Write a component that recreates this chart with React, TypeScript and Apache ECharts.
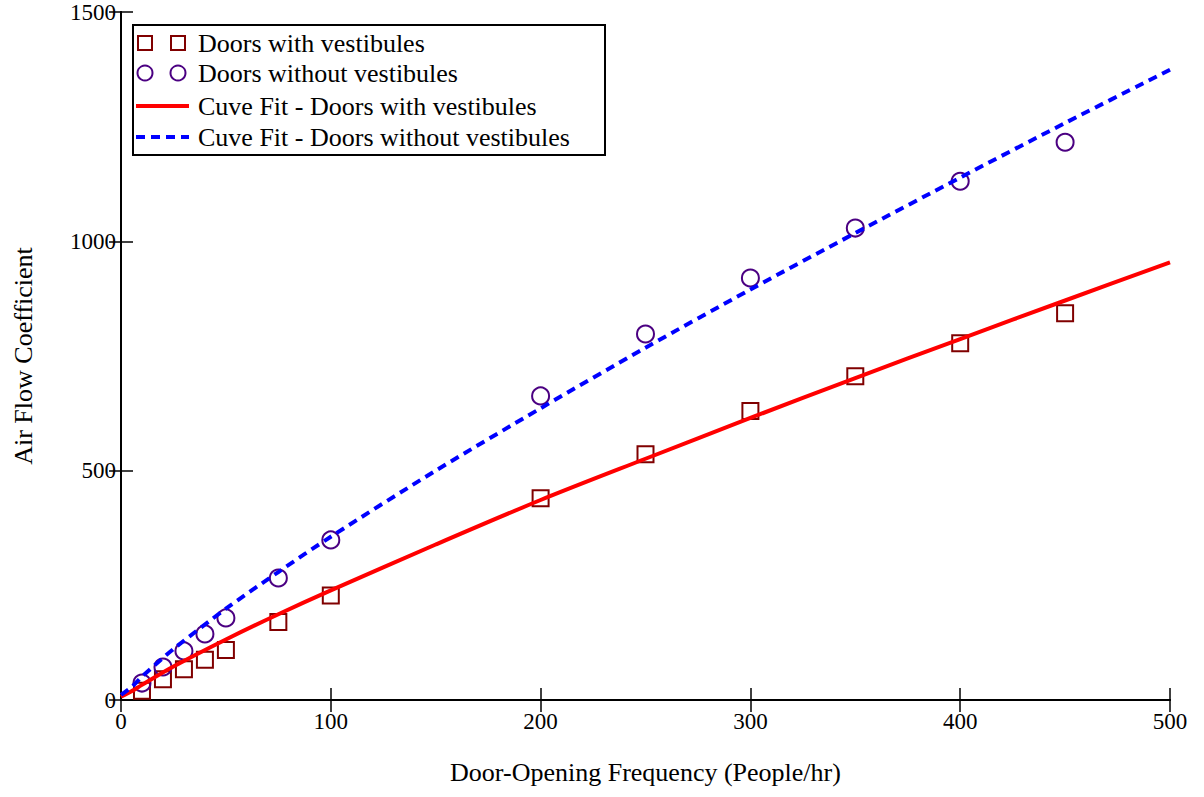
import React, { useEffect, useRef } from "react";
import * as echarts from "echarts";

// Measured points (Door-opening frequency, People/hr)
const xValues = [10, 20, 30, 40, 50, 75, 100, 200, 250, 300, 350, 400, 450];
const withVestibules = [20, 45, 67, 88, 109, 170, 228, 440, 536, 630, 706, 778, 843];
const withoutVestibules = [37, 72, 107, 144, 179, 266, 349, 663, 798, 920, 1029, 1131, 1216];

// Curve fits
const fitX = [0, 5, 10, 25, 50, 75, 100, 150, 200, 250, 300, 350, 400, 450, 500];
const fitWith = [7, 19, 33, 73, 132, 187, 239, 339, 436, 526, 615, 702, 787, 871, 954];
const fitWithout = [11, 28, 51, 111, 199, 279, 356, 500, 636, 768, 895, 1018, 1139, 1258, 1374];

const xTicks = { min: 0, max: 500, interval: 100 };
const yTicks = { min: 0, max: 1500, interval: 500 };

const legendLabels = [
  "Doors with vestibules",
  "Doors without vestibules",
  "Cuve Fit - Doors with vestibules",
  "Cuve Fit - Doors without vestibules",
];
const xTitle = "Door-Opening Frequency (People/hr)";
const yTitle = "Air Flow Coefficient";

const FONT = "Liberation Serif";
const SQ_COLOR = "#800000";
const CI_COLOR = "#4B0082";
const RED = "#ff0000";
const BLUE = "#0000ff";

export default function App() {
  const ref = useRef<HTMLDivElement>(null);

  useEffect(() => {
    if (!ref.current) return;
    const chart = echarts.init(ref.current, null, { renderer: "svg" });

    const axisCommon = {
      type: "value" as const,
      axisLine: { show: true, lineStyle: { color: "#000", width: 2 } },
      axisTick: { show: true, inside: true, length: 12, lineStyle: { color: "#000", width: 1.5 } },
      splitLine: { show: false },
    };

    const tickStyle = { color: "#000", fontSize: 23, fontFamily: FONT };
    const titleStyle = { color: "#000", fontSize: 26, fontFamily: FONT };

    const lx = 136;
    const rows = [43, 73, 106, 137];
    const textX = 198;

    const option: any = {
      animation: false,
      backgroundColor: "#fff",
      textStyle: { fontFamily: FONT },
      grid: { left: 121, right: 34, top: 12, bottom: 97 },
      xAxis: [
        {
          ...axisCommon,
          ...xTicks,
          position: "bottom",
          axisLabel: { ...tickStyle, margin: 10, formatter: (v: number) => String(v) },
          name: xTitle,
          nameLocation: "middle",
          nameGap: 59,
          nameTextStyle: { ...titleStyle },
        },
        {
          ...axisCommon,
          ...xTicks,
          position: "top",
          axisLabel: { show: false },
        },
      ],
      yAxis: [
        {
          ...axisCommon,
          ...yTicks,
          position: "left",
          axisLabel: { ...tickStyle, margin: 5, formatter: (v: number) => String(v) },
          name: yTitle,
          nameLocation: "middle",
          nameGap: 85,
          nameTextStyle: { ...titleStyle },
        },
        {
          ...axisCommon,
          ...yTicks,
          position: "right",
          axisLabel: { show: false },
        },
      ],
      series: [
        {
          type: "scatter",
          name: legendLabels[0],
          data: xValues.map((x, i) => [x, withVestibules[i]]),
          symbol: "rect",
          symbolSize: 16,
          itemStyle: { color: "transparent", borderColor: SQ_COLOR, borderWidth: 2, opacity: 1 },
          z: 2,
        },
        {
          type: "scatter",
          name: legendLabels[1],
          data: xValues.map((x, i) => [x, withoutVestibules[i]]),
          symbol: "circle",
          symbolSize: 17,
          itemStyle: { color: "transparent", borderColor: CI_COLOR, borderWidth: 2, opacity: 1 },
          z: 2,
        },
        {
          type: "line",
          name: legendLabels[2],
          data: fitX.map((x, i) => [x, fitWith[i]]),
          showSymbol: false,
          smooth: 0.3,
          lineStyle: { color: RED, width: 4 },
          z: 3,
        },
        {
          type: "line",
          name: legendLabels[3],
          data: fitX.map((x, i) => [x, fitWithout[i]]),
          showSymbol: false,
          smooth: 0.3,
          lineStyle: { color: BLUE, width: 4, type: [9, 6] },
          z: 3,
        },
      ],
      graphic: [
        {
          type: "rect",
          shape: { x: 133, y: 25, width: 472, height: 130 },
          style: { fill: "#fff", stroke: "#000", lineWidth: 2 },
          z: 10,
        },
        {
          type: "rect",
          shape: { x: 145 - 7, y: rows[0] - 7, width: 14, height: 14 },
          style: { fill: "transparent", stroke: SQ_COLOR, lineWidth: 2 },
          z: 11,
        },
        {
          type: "rect",
          shape: { x: 178 - 7, y: rows[0] - 7, width: 14, height: 14 },
          style: { fill: "transparent", stroke: SQ_COLOR, lineWidth: 2 },
          z: 11,
        },
        {
          type: "circle",
          shape: { cx: 145, cy: rows[1], r: 7.5 },
          style: { fill: "transparent", stroke: CI_COLOR, lineWidth: 2 },
          z: 11,
        },
        {
          type: "circle",
          shape: { cx: 178, cy: rows[1], r: 7.5 },
          style: { fill: "transparent", stroke: CI_COLOR, lineWidth: 2 },
          z: 11,
        },
        {
          type: "line",
          shape: { x1: lx, y1: rows[2], x2: 189, y2: rows[2] },
          style: { stroke: RED, lineWidth: 4 },
          z: 11,
        },
        {
          type: "line",
          shape: { x1: lx, y1: rows[3], x2: 189, y2: rows[3] },
          style: { stroke: BLUE, lineWidth: 4, lineDash: [9, 6] },
          z: 11,
        },
        ...legendLabels.map((t, i) => ({
          type: "text",
          x: textX,
          y: rows[i],
          style: {
            text: t,
            fill: "#000",
            fontSize: 26,
            fontFamily: FONT,
            verticalAlign: "middle",
          },
          z: 11,
        })),
      ],
    };

    chart.setOption(option);
    return () => chart.dispose();
  }, []);

  return (
    <div
      ref={ref}
      style={{ position: "absolute", left: 0, top: 0, width: 1204, height: 797, background: "#fff" }}
    />
  );
}
